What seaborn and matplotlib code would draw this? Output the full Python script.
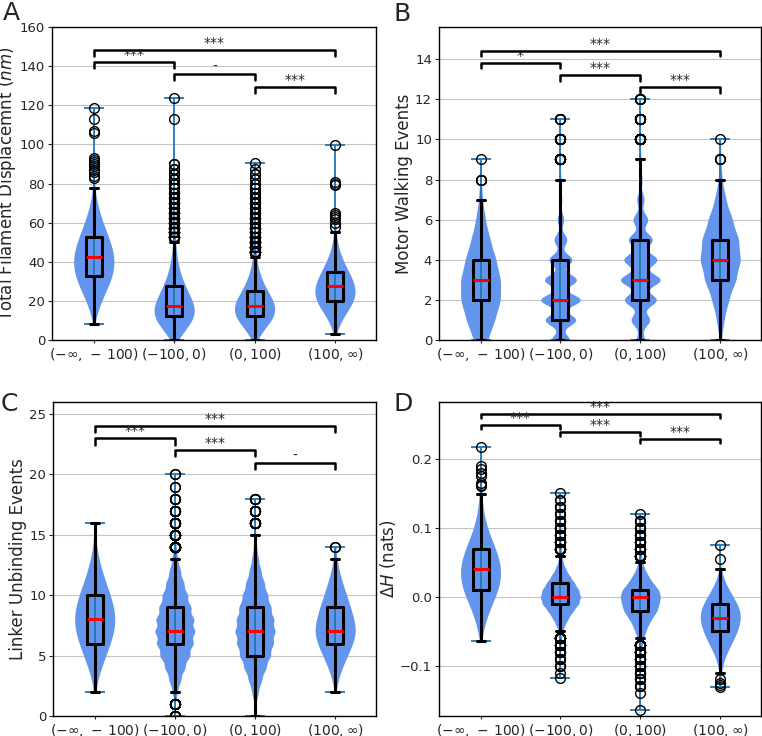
import numpy as np
import pandas as pd
import matplotlib
matplotlib.use("Agg")
import matplotlib.pyplot as plt
import seaborn as sns

groups = [r'$(-\infty,\,-\,100)$', r'$(-100, 0)$', r'$(0, 100)$', r'$(100, \infty)$']

# A: total filament displacement (nm), counts per 2.5 nm bin (0 .. 90)
disp_bins = np.arange(0, 90.1, 2.5)
disp_g1 = [0, 0, 0, 0, 2, 4, 7, 10, 13, 17, 21, 25, 29, 32, 34, 36, 36, 35, 34, 32, 29, 26, 22, 19, 16, 13, 10, 8, 6, 4, 3, 2,
           0, 0, 0, 0, 0]
disp_g2 = [90, 165, 240, 330, 405, 450, 465, 450, 412, 360, 308, 255, 210, 165, 135, 105, 82, 68, 52, 41, 34, 28, 24, 20,
           17, 15, 13, 10, 9, 8, 6, 5, 4, 4, 3, 2, 2]
disp_g3 = [64, 144, 224, 320, 416, 480, 512, 504, 464, 400, 328, 264, 208, 160, 120, 88, 68, 52, 40, 32, 26, 22, 18, 14,
           12, 10, 8, 6, 6, 5, 4, 3, 2, 2, 2, 1, 0]
disp_g4 = [0, 0, 4, 7, 11, 16, 22, 28, 33, 36, 37, 35, 32, 28, 24, 19, 15, 11, 8, 6, 4, 3, 2,
           0, 0, 0, 0, 0, 0, 0, 0, 0, 0, 0, 0, 0, 0]
disp_extra = [[8.0, 83, 84, 86, 87, 89, 90, 91, 92, 93, 106, 107, 113, 118.5],
              [113.0, 123.5],
              [90.5],
              [3.3, 58, 60, 62, 63, 64, 65, 79, 80, 81, 99.5]]

# B: motor walking events, counts per integer value (0 .. 12)
walk_vals = np.arange(0, 13)
walk_g1 = [30, 60, 85, 85, 65, 40, 20, 8, 3, 1, 0, 0, 0]
walk_g2 = [1120, 1920, 2480, 2000, 1440, 800, 400, 160, 60, 24, 10, 4, 0]
walk_g3 = [480, 1120, 1920, 2400, 2000, 1440, 880, 440, 200, 80, 24, 12, 4]
walk_g4 = [5, 20, 45, 85, 110, 100, 65, 30, 10, 3, 1, 0, 0]

# C: linker unbinding events, counts per integer value (0 .. 20)
link_vals = np.arange(0, 21)
link_g1 = [0, 0, 3, 8, 19, 32, 45, 56, 60, 56, 45, 33, 21, 12, 5, 3, 1, 0, 0, 0, 0]
link_g2 = [8, 24, 192, 432, 720, 1080, 1320, 1440, 1368, 1152, 912, 648, 408, 216, 96, 48, 20, 10, 4, 2, 2]
link_g3 = [24, 70, 230, 460, 760, 1060, 1260, 1380, 1290, 1100, 870, 640, 410, 230, 116, 56, 24, 10, 4, 0, 0]
link_g4 = [0, 0, 3, 12, 28, 50, 72, 85, 76, 62, 46, 30, 16, 7, 2, 0, 0, 0, 0, 0, 0]

# D: delta H (nats), counts per 0.01 bin (-0.14 .. 0.15)
dh_bins = np.round(np.arange(-0.14, 0.155, 0.01), 2)
dh_g1 = [0, 0, 0, 0, 0, 0, 0, 0, 2, 4, 7, 11, 15, 20, 26, 31, 34, 36, 36, 34, 31, 26, 21, 16, 12, 8, 6, 4, 3, 2]
dh_g2 = [0, 0, 0, 1, 3, 6, 11, 21, 42, 84, 196, 350, 540, 770, 840, 770, 588, 392, 224, 112, 56, 35, 22, 15, 11, 7,
         5, 4, 2, 0]
dh_g3 = [1, 4, 6, 8, 13, 22, 36, 60, 108, 192, 288, 432, 600, 660, 720, 660, 444, 288, 156, 78, 36, 24, 16, 11, 7, 4,
         0, 0, 0, 0]
dh_g4 = [0, 0, 0, 4, 8, 14, 24, 36, 48, 58, 66, 70, 68, 58, 44, 30, 18, 9, 4, 0, 0, 0, 0, 0, 0, 0, 0, 0, 0, 0]
dh_extra = [[-0.0635, 0.161, 0.163, 0.166, 0.175, 0.18, 0.185, 0.19, 0.217],
            [-0.118, 0.151],
            [-0.165, 0.12],
            [-0.131, -0.128, -0.125, -0.12, 0.055, 0.075]]

# significance brackets: (from, to, label, height)
disp_sig = [(0, 3, '***', 148.2), (0, 1, '***', 142.1), (1, 2, '-', 135.8), (2, 3, '***', 129.4)]
walk_sig = [(0, 3, '***', 14.42), (0, 1, '*', 13.82), (1, 2, '***', 13.2), (2, 3, '***', 12.59)]
link_sig = [(0, 3, '***', 23.98), (0, 1, '***', 22.98), (1, 2, '***', 22.0), (2, 3, '-', 20.97)]
dh_sig = [(0, 3, '***', 0.2654), (0, 1, '***', 0.2494), (1, 2, '***', 0.2392), (2, 3, '***', 0.2286)]


def expand(bins, counts, extra=()):
    return np.concatenate([np.repeat(bins, counts), np.asarray(extra, dtype=float)])


def draw_panel(ax, samples, ylabel, ylim, yticks, sig, drop):
    df = pd.DataFrame({'group': np.repeat(groups, [len(s) for s in samples]),
                       'value': np.concatenate(samples)})
    sns.violinplot(data=df, x='group', y='value', order=groups, ax=ax, inner=None, cut=0,
                   density_norm='width', width=0.5, color='#6495ED', saturation=1, linewidth=0)
    # extrema bars like matplotlib's violinplot
    for i, s in enumerate(samples):
        lo, hi = s.min(), s.max()
        ax.vlines(i, lo, hi, color='#1f77b4', lw=1.3)
        ax.hlines([lo, hi], i - 0.125, i + 0.125, color='#1f77b4', lw=1.3)
    sns.boxplot(data=df, x='group', y='value', order=groups, ax=ax, width=0.2, fill=False,
                color='black', linewidth=2.2,
                medianprops=dict(color='red', linewidth=2.2),
                flierprops=dict(marker='o', markersize=7, markerfacecolor='none',
                                markeredgecolor='black', markeredgewidth=1))
    for i, j, lab, y in sig:
        ax.plot([i, i, j, j], [y - drop, y, y, y - drop], color='black', lw=1.8)
        ax.text((i + j) / 2, y, lab, ha='center', va='bottom', fontsize=10)
    ax.set_xlabel('')
    ax.set_ylabel(ylabel, fontsize=12, labelpad=1.5)
    ax.set_xlim(-0.52, 3.51)
    ax.set_ylim(*ylim)
    ax.set_yticks(yticks)
    ax.tick_params(axis='x', labelsize=10, length=2.5, pad=1.5, width=0.8)
    ax.tick_params(axis='y', labelsize=9.5, length=3, pad=2, width=0.8)
    ax.yaxis.grid(True, color='#c4c4c4', lw=0.8)
    ax.set_axisbelow(True)


sns.set_theme(style='ticks')
plt.rcParams['font.family'] = ['DejaVu Sans']
plt.rcParams['axes.edgecolor'] = 'black'
plt.rcParams['axes.linewidth'] = 1.0

fig = plt.figure(figsize=(7.62, 7.36), dpi=100)
axA = fig.add_axes([0.0682, 0.538, 0.4252, 0.4253])
axB = fig.add_axes([0.5761, 0.538, 0.4226, 0.4253])
axC = fig.add_axes([0.0696, 0.0272, 0.4239, 0.4266])
axD = fig.add_axes([0.5761, 0.0272, 0.4226, 0.4266])

disp = [expand(disp_bins, c, e) for c, e in zip([disp_g1, disp_g2, disp_g3, disp_g4], disp_extra)]
walk = [expand(walk_vals, c) for c in [walk_g1, walk_g2, walk_g3, walk_g4]]
link = [expand(link_vals, c) for c in [link_g1, link_g2, link_g3, link_g4]]
dh = [expand(dh_bins, c, e) for c, e in zip([dh_g1, dh_g2, dh_g3, dh_g4], dh_extra)]

draw_panel(axA, disp, 'Total Filament Displacemnt ($nm$)', (0, 160), range(0, 161, 20), disp_sig, 3.0)
draw_panel(axB, walk, 'Motor Walking Events', (0, 15.6), range(0, 15, 2), walk_sig, 0.28)
draw_panel(axC, link, 'Linker Unbinding Events', (0, 26), range(0, 26, 5), link_sig, 0.5)
draw_panel(axD, dh, r'$\Delta H$ (nats)', (-0.173, 0.283), [-0.1, 0.0, 0.1, 0.2], dh_sig, 0.0055)

for lab, x, y in [('A', 0.004, 0.9728), ('B', 0.5164, 0.9715), ('C', 0.001, 0.4416), ('D', 0.5164, 0.4416)]:
    fig.text(x, y, lab, fontsize=18, va='baseline', ha='left')

fig.savefig('out.png', dpi=100)
